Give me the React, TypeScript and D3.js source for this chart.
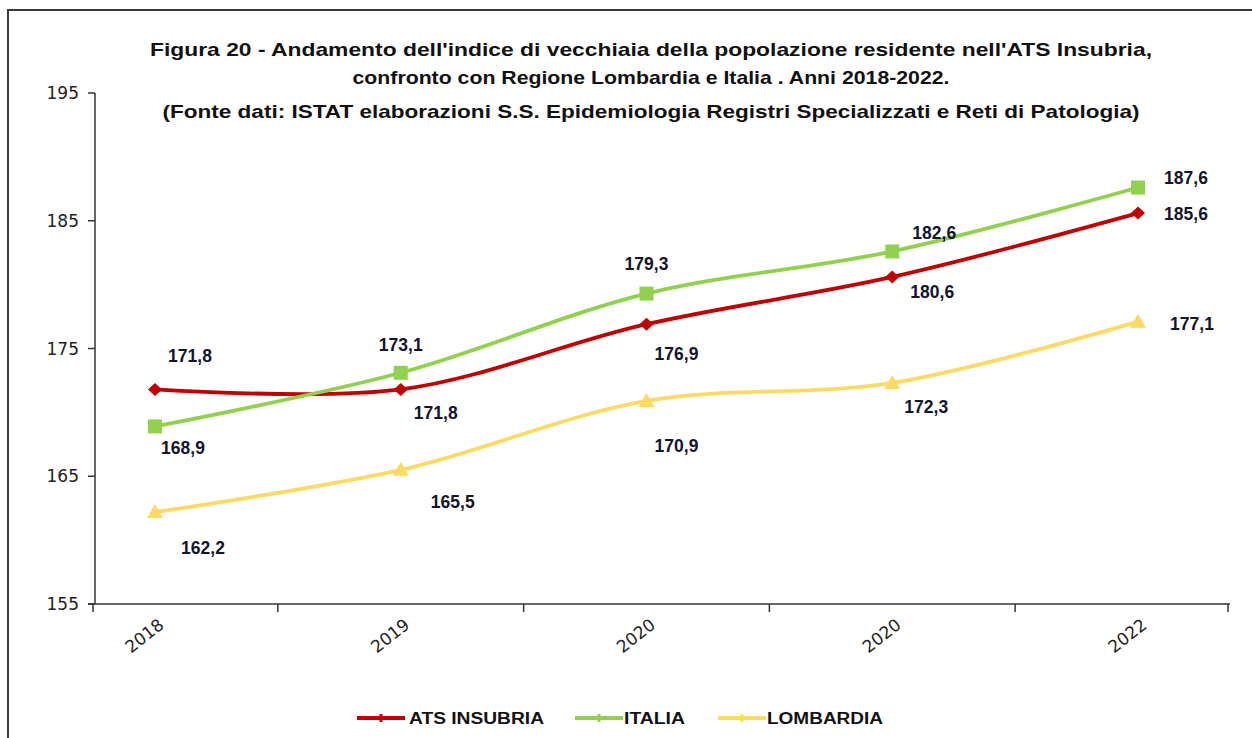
import React from "react";
import * as d3 from "d3";

const categories = ["2018", "2019", "2020", "2020", "2022"];
const atsInsubria = [171.8, 171.8, 176.9, 180.6, 185.6];
const italia = [168.9, 173.1, 179.3, 182.6, 187.6];
const lombardia = [162.2, 165.5, 170.9, 172.3, 177.1];
const yTicks = [155, 165, 175, 185, 195];
const titleLines = [
  "Figura  20 - Andamento dell'indice di vecchiaia della popolazione residente nell'ATS Insubria,",
  "confronto con Regione Lombardia e Italia .  Anni 2018-2022.",
  "(Fonte dati: ISTAT elaborazioni  S.S. Epidemiologia Registri Specializzati e Reti di Patologia)",
];

// label offsets (styling): [dx, dy] relative to the point, per series
const atsOff = [[35, -33], [35, 24], [30, 30], [40, 15], [48, 1]];
const itaOff = [[28, 22], [0, -28], [0, -30], [42, -18], [48, -10]];
const lomOff = [[48, 36], [52, 32], [30, 45], [34, 24], [54, 2]];

const W = 1252, H = 738;
const NARROW = "Liberation Sans Narrow, Arial Narrow, sans-serif";

export default function App() {
  const x = d3.scaleLinear().domain([0, 4]).range([155, 1138]);
  const y = d3.scaleLinear().domain([155, 195]).range([604, 93]);
  const line = d3.line<number>().x((_, i) => x(i)).y((v) => y(v)).curve(d3.curveCatmullRom.alpha(0.5));
  const series = [
    { name: "ATS INSUBRIA", data: atsInsubria, color: "#C00000", marker: "diamond", off: atsOff },
    { name: "ITALIA", data: italia, color: "#92D050", marker: "square", off: itaOff },
    { name: "LOMBARDIA", data: lombardia, color: "#FFD966", marker: "triangle", off: lomOff },
  ];
  const sym = (m: string) => {
    if (m === "diamond") return "M0,-6.5L7,0L0,6.5L-7,0Z";
    if (m === "square") return "M-7,-7H7V7H-7Z";
    return "M0,-8L8,6H-8Z";
  };
  const xTickPos = [93, ...[0.5, 1.5, 2.5, 3.5].map((v) => x(v)), 1228];
  const titleWidths = [1002, 597, 977];
  const titleY = [56, 84, 118];
  const legend = [
    { x0: 357, tx: 409, w: 135 },
    { x0: 575, tx: 624, w: 61 },
    { x0: 718, tx: 767, w: 116 },
  ];
  return (
    <svg width={W} height={H} style={{ position: "absolute", left: 0, top: 0, background: "#fff" }}>
      <rect x={0} y={0} width={W} height={H} fill="#fff" />
      <rect x={8} y={10} width={1300} height={800} fill="none" stroke="#3a3a3a" strokeWidth={2} />
      {titleLines.map((t, i) => (
        <text key={i} x={651} y={titleY[i]} textAnchor="middle" fontFamily={NARROW}
          fontWeight="bold" fontSize={18.5} fill="#111" textLength={titleWidths[i]} lengthAdjust="spacingAndGlyphs">{t}</text>
      ))}
      {/* y axis */}
      <line x1={95} x2={95} y1={93} y2={604} stroke="#333" strokeWidth={1.5} />
      {yTicks.map((t) => (
        <g key={t}>
          <line x1={88} x2={95} y1={y(t)} y2={y(t)} stroke="#333" strokeWidth={1.5} />
          <text x={79} y={y(t) + 6} textAnchor="end" fontFamily="DejaVu Sans, Verdana, sans-serif" fontSize={17} fill="#222">{t}</text>
        </g>
      ))}
      {/* x axis */}
      <line x1={88} x2={1230} y1={604} y2={604} stroke="#333" strokeWidth={1.5} />
      {xTickPos.map((p, i) => (
        <line key={i} x1={p} x2={p} y1={604} y2={612} stroke="#333" strokeWidth={1.5} />
      ))}
      {categories.map((c, i) => (
        <text key={i} transform={`translate(${x(i) + 10},${627}) rotate(-38)`} textAnchor="end"
          fontFamily="DejaVu Sans, Verdana, sans-serif" fontSize={17} fill="#222">{c}</text>
      ))}
      {/* series */}
      {series.map((s) => (
        <g key={s.name}>
          <path d={line(s.data) || ""} fill="none" stroke={s.color} strokeWidth={3.8} />
          {s.data.map((v, i) => (
            <path key={i} d={sym(s.marker)} transform={`translate(${x(i)},${y(v)})`} fill={s.color} />
          ))}
          {s.data.map((v, i) => (
            <text key={"l" + i} x={x(i) + s.off[i][0]} y={y(v) + s.off[i][1] + 6} textAnchor="middle"
              fontFamily="Liberation Sans, Arial, sans-serif" fontWeight="bold" fontSize={17.5} fill="#14142a">
              {v.toFixed(1).replace(".", ",")}
            </text>
          ))}
        </g>
      ))}
      {/* legend */}
      {series.map((s, i) => (
        <g key={"lg" + i}>
          <line x1={legend[i].x0} x2={legend[i].x0 + 48} y1={718} y2={718} stroke={s.color} strokeWidth={4} />
          <line x1={legend[i].x0 + 24} x2={legend[i].x0 + 24} y1={714} y2={722} stroke={s.color} strokeWidth={3} />
          <text x={legend[i].tx} y={724} fontFamily={NARROW} fontWeight="bold"
            fontSize={16} fill="#111" textLength={legend[i].w} lengthAdjust="spacingAndGlyphs">{s.name}</text>
        </g>
      ))}
    </svg>
  );
}
